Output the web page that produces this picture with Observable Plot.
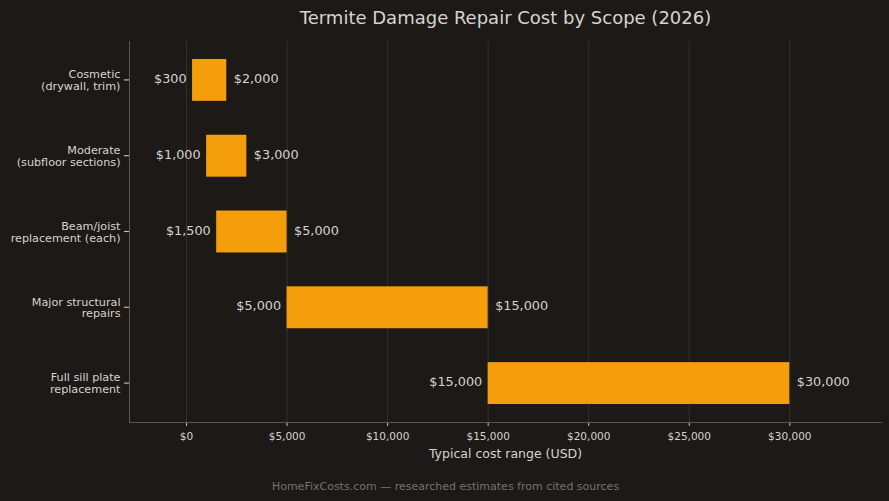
<!DOCTYPE html>
<html>
<head>
<meta charset="utf-8">
<script src="https://cdn.jsdelivr.net/npm/d3@7"></script>
<script src="https://cdn.jsdelivr.net/npm/@observablehq/plot@0.6"></script>
<style>
  html, body { margin: 0; padding: 0; background: #1c1917; }
  #chart svg { display: block; }
</style>
</head>
<body>
<div id="chart"></div>
<script>
const categories = [
  "Cosmetic\n(drywall, trim)",
  "Moderate\n(subfloor sections)",
  "Beam/joist\nreplacement (each)",
  "Major structural\nrepairs",
  "Full sill plate\nreplacement"
];
const lowValues = [300, 1000, 1500, 5000, 15000];
const highValues = [2000, 3000, 5000, 15000, 30000];
const xTicks = [0, 5000, 10000, 15000, 20000, 25000, 30000];
const title = "Termite Damage Repair Cost by Scope (2026)";
const xLabel = "Typical cost range (USD)";
const footer = "HomeFixCosts.com — researched estimates from cited sources";

const data = categories.map((c, i) => ({scope: c, low: lowValues[i], high: highValues[i]}));
const money = v => "$" + d3.format(",")(v);

const textColor = "#d6d3d1";
const xMin = -2836, xMax = 34560;
const plot = Plot.plot({
  width: 889,
  height: 501,
  marginLeft: 129,
  marginRight: 8,
  marginTop: 41,
  marginBottom: 79,
  style: {background: "#1c1917", color: textColor, fontFamily: "'DejaVu Sans', sans-serif", overflow: "visible"},
  x: {domain: [xMin, xMax], ticks: xTicks, tickFormat: money},
  y: {domain: categories, paddingInner: 0.447, paddingOuter: 0.237, round: false},
  marks: [
    Plot.gridX(xTicks, {stroke: "#3b3733", strokeOpacity: 1, strokeWidth: 0.8}),
    Plot.barX(data, {x1: "low", x2: "high", y: "scope", fill: "#f59e0b"}),
    Plot.text(data, {x: "low", y: "scope", text: d => money(d.low), textAnchor: "end", dx: -6, dy: -1.5, fill: textColor, fontSize: 12.8}),
    Plot.text(data, {x: "high", y: "scope", text: d => money(d.high), textAnchor: "start", dx: 7, dy: -1.5, fill: textColor, fontSize: 12.8}),
    Plot.axisX({ticks: xTicks, tickFormat: money, tickSize: 4, tickPadding: 6, fontSize: 10.5, stroke: "#c8c4bf", strokeOpacity: 1, strokeWidth: 1, fill: textColor, label: null}),
    Plot.axisY({tickSize: 0, tickPadding: 9, fontSize: 11.2, lineHeight: 1.05, fill: textColor, label: null}),
    Plot.barX(categories, {y: d => d, x1: xMin - 250, x2: xMin, insetTop: 20.4, insetBottom: 20.4, fill: "#c8c4bf", clip: false}),
    Plot.ruleX([xMin], {stroke: "#5a5551", strokeWidth: 1.1}),
    Plot.frame({anchor: "bottom", stroke: "#5a5551", strokeWidth: 1.1}),
    Plot.text([title], {frameAnchor: "top", lineAnchor: "middle", dy: -23, fontSize: 18, fill: textColor}),
    Plot.text([xLabel], {frameAnchor: "bottom", lineAnchor: "middle", dy: 31, fontSize: 12.5, fill: textColor}),
    Plot.text([footer], {frameAnchor: "bottom", lineAnchor: "middle", dy: 64, dx: -60, fontSize: 11, fill: "#78716c"})
  ]
});
document.getElementById("chart").appendChild(plot);
</script>
</body>
</html>
